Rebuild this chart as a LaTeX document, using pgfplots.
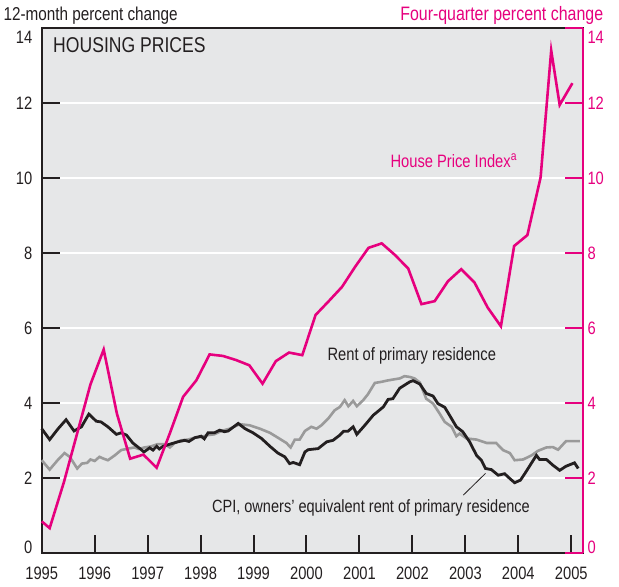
\documentclass[border=0pt]{standalone}
\usepackage{fontspec}
\setmainfont{Liberation Sans}[FakeStretch=0.82]
\usepackage{pgfplots}
\pgfplotsset{compat=1.18}

\definecolor{hpink}{HTML}{E6007E}
\definecolor{bgray}{HTML}{E6E7E8}
\definecolor{rentgray}{HTML}{9A9A9A}
\definecolor{oer}{HTML}{231F20}

\newcommand\tfont{\fontsize{18}{20}\selectfont}
% labels 0 and 14 sit a little inside the frame
\newcommand\ylab{%
  \ifdim\tick pt=14pt \raisebox{-9bp}[\height][\depth]{14}%
  \else\ifdim\tick pt=0pt \raisebox{6bp}[\height][\depth]{0}%
  \else\pgfmathprintnumber{\tick}\fi\fi}

\pgfplotsset{
  chartbase/.style={
    scale only axis, width=541bp, height=525bp,
    xmin=1995, xmax=2005.22, ymin=0, ymax=14,
    ytick={0,2,...,14},
    yticklabel={\ylab},
    tick align=inside,
    major tick length=18bp,
    /pgf/number format/assume math mode=true,
    tick label style={font=\tfont},
    clip=false,
  },
}

\begin{document}
\begin{tikzpicture}
\begin{axis}[
  chartbase,
  axis background/.style={fill=bgray},
  axis line style={line width=2bp, draw=oer},
  xtick={1995,...,2005},
  xtick pos=bottom, ytick pos=left,
  every tick/.style={line width=2bp, draw=oer},
  ymajorgrids, y grid style={white, line width=2bp},
  xticklabel style={/pgf/number format/1000 sep={}, text=oer, yshift=-10bp},
  yticklabel style={text=oer, xshift=-6bp},
]
% rent of primary residence (12-month % change)
\addplot[rentgray, line width=2.6bp] coordinates {
(1995.00,2.48) (1995.15,2.23) (1995.30,2.48) (1995.43,2.67) (1995.53,2.57)
(1995.67,2.26) (1995.76,2.39) (1995.86,2.41) (1995.92,2.50) (1996.00,2.46)
(1996.09,2.57) (1996.17,2.52) (1996.25,2.48) (1996.38,2.61) (1996.50,2.75)
(1996.63,2.79) (1996.75,2.82) (1996.83,2.78) (1996.94,2.82) (1997.07,2.85)
(1997.19,2.91) (1997.32,2.91) (1997.42,2.82) (1997.51,2.94) (1997.63,3.01)
(1997.76,3.03) (1997.89,3.08) (1998.01,3.10) (1998.14,3.15) (1998.26,3.17)
(1998.39,3.26) (1998.55,3.32) (1998.74,3.44) (1998.93,3.41) (1999.12,3.32)
(1999.31,3.21) (1999.46,3.08) (1999.62,2.94) (1999.70,2.82) (1999.78,3.03)
(1999.87,3.03) (1999.97,3.26) (2000.09,3.37) (2000.19,3.32) (2000.28,3.41)
(2000.41,3.59) (2000.53,3.81) (2000.63,3.90) (2000.72,4.08) (2000.79,3.92)
(2000.88,4.06) (2000.95,3.92) (2001.07,4.08) (2001.16,4.24) (2001.29,4.54)
(2001.42,4.57) (2001.51,4.60) (2001.63,4.63) (2001.76,4.66) (2001.85,4.72)
(2001.95,4.70) (2002.04,4.66) (2002.14,4.55) (2002.26,4.12) (2002.39,3.99)
(2002.51,3.73) (2002.61,3.50) (2002.74,3.37) (2002.83,3.12) (2002.89,3.19)
(2003.02,3.06) (2003.21,3.03) (2003.40,2.94) (2003.58,2.94) (2003.71,2.75)
(2003.84,2.67) (2003.93,2.48) (2004.09,2.50) (2004.25,2.61) (2004.37,2.73)
(2004.53,2.82) (2004.65,2.83) (2004.75,2.76) (2004.90,2.99) (2005.03,2.99)
(2005.16,2.99)
};
% CPI, owners' equivalent rent
\addplot[oer, line width=2.8bp] coordinates {
(1995.00,3.32) (1995.15,3.03) (1995.31,3.32) (1995.46,3.56) (1995.61,3.26)
(1995.75,3.37) (1995.89,3.71) (1996.03,3.52) (1996.12,3.50) (1996.25,3.37)
(1996.41,3.17) (1996.50,3.21) (1996.60,3.15) (1996.72,2.94) (1996.88,2.76)
(1996.93,2.70) (1997.04,2.81) (1997.10,2.75) (1997.17,2.85) (1997.22,2.78)
(1997.29,2.85) (1997.45,2.92) (1997.57,2.97) (1997.70,3.01) (1997.78,2.98)
(1997.89,3.08) (1998.01,3.12) (1998.07,3.05) (1998.14,3.21) (1998.26,3.21)
(1998.36,3.28) (1998.45,3.24) (1998.52,3.26) (1998.71,3.46) (1998.84,3.32)
(1998.99,3.21) (1999.15,3.06) (1999.31,2.85) (1999.46,2.67) (1999.59,2.57)
(1999.68,2.39) (1999.75,2.42) (1999.87,2.36) (1999.97,2.70) (2000.03,2.76)
(2000.22,2.79) (2000.38,2.97) (2000.50,3.01) (2000.63,3.15) (2000.70,3.25)
(2000.78,3.25) (2000.88,3.37) (2000.95,3.17) (2001.10,3.41) (2001.26,3.68)
(2001.45,3.90) (2001.54,4.10) (2001.63,4.12) (2001.76,4.40) (2001.95,4.57)
(2002.01,4.60) (2002.14,4.51) (2002.26,4.26) (2002.39,4.19) (2002.48,3.99)
(2002.61,3.89) (2002.70,3.68) (2002.83,3.37) (2002.95,3.24) (2003.08,2.97)
(2003.21,2.61) (2003.30,2.48) (2003.38,2.26) (2003.49,2.23) (2003.62,2.08)
(2003.74,2.12) (2003.84,1.99) (2003.93,1.88) (2004.04,1.95) (2004.12,2.12)
(2004.21,2.32) (2004.34,2.61) (2004.40,2.50) (2004.53,2.50) (2004.65,2.35)
(2004.78,2.21) (2004.90,2.32) (2005.06,2.41) (2005.13,2.26)
};
\node[anchor=base west, font=\fontsize{21.5}{23}\selectfont, text=oer, xshift=8bp, yshift=-24bp]
  at (rel axis cs:0,1) {HOUSING PRICES};
\node[anchor=base west, font=\fontsize{18.7}{20}\selectfont, text=oer, xshift=-41.7bp, yshift=8bp]
  at (rel axis cs:0,1) {12-month percent change};
\node[anchor=base west, font=\tfont, text=oer] at (axis cs:2000.33,5.15) {Rent of primary residence};
\node[anchor=base west, font=\fontsize{17.8}{20}\selectfont, text=oer] at (axis cs:1998.15,1.09)
  {CPI, owners' equivalent rent of primary residence};
\draw[oer, line width=0.8bp] (axis cs:2002.96,1.55) -- (axis cs:2003.38,2.13);
\end{axis}

\begin{axis}[
  chartbase,
  axis x line=none, axis y line*=right,
  y axis line style={line width=2bp, draw=hpink},
  every tick/.style={line width=2bp, draw=hpink},
  yticklabel style={text=hpink, xshift=1bp},
]
% House Price Index (four-quarter % change)
\addplot[hpink, line width=2.6bp] coordinates {
(1995.00,0.85) (1995.15,0.67) (1995.42,1.90) (1995.67,3.20) (1995.92,4.50)
(1996.17,5.43) (1996.42,3.72) (1996.67,2.52) (1996.92,2.63) (1997.17,2.28)
(1997.42,3.20) (1997.67,4.17) (1997.92,4.61) (1998.17,5.30) (1998.42,5.26)
(1998.67,5.15) (1998.92,5.01) (1999.17,4.52) (1999.42,5.12) (1999.67,5.35)
(1999.92,5.28) (2000.17,6.35) (2000.42,6.72) (2000.67,7.10) (2000.92,7.64)
(2001.17,8.14) (2001.42,8.26) (2001.67,7.95) (2001.92,7.59) (2002.17,6.64)
(2002.42,6.72) (2002.67,7.25) (2002.92,7.57) (2003.17,7.22) (2003.42,6.55)
(2003.67,6.05) (2003.92,8.19) (2004.17,8.48) (2004.42,10.02) (2004.62,13.40)
(2004.78,11.95) (2005.02,12.53)
};
\node[anchor=base west, font=\tfont, text=hpink] at (axis cs:2001.52,10.29) {House Price Index\textsuperscript{a}};
\node[anchor=base east, font=\fontsize{19.5}{21}\selectfont, text=hpink, xshift=23.7bp, yshift=8bp]
  at (rel axis cs:1,1) {Four-quarter percent change};
\path ([xshift=-41.7bp,yshift=-33bp]rel axis cs:0,0) rectangle ([xshift=36bp,yshift=28bp]rel axis cs:1,1);
\end{axis}
\end{tikzpicture}
\end{document}
